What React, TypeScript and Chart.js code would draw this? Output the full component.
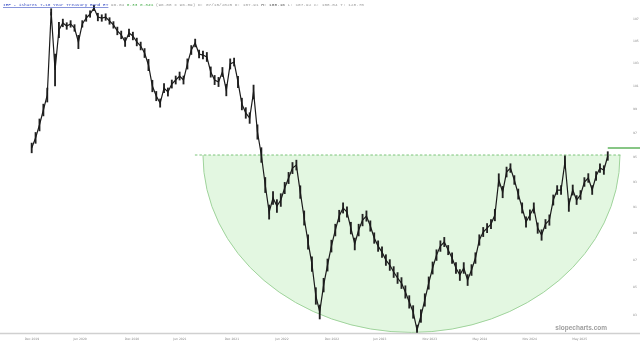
import React, { useEffect, useRef } from "react";
import { Chart, registerables } from "chart.js";

Chart.register(...registerables);

// ---- data ----
const startDate = "2019-12-27";
const stepDays = 14;
const closes = [
  95.79, 96.62, 97.7, 98.96, 100.24, 107.65, 102.42, 106.0, 106.64, 106.36,
  106.55, 106.18, 104.91, 106.55, 107.09, 107.46, 108.02, 107.18, 107.09, 107.18,
  106.82, 106.46, 105.91, 105.55, 104.91, 105.73, 105.45, 104.91, 104.55, 103.92,
  102.86, 101.02, 100.15, 99.55, 100.84, 100.5, 101.19, 101.54, 101.89, 101.54,
  102.95, 104.19, 104.82, 103.83, 103.74, 103.57, 102.24, 101.54, 101.37, 102.24,
  100.67, 102.95, 103.12, 101.37, 99.47, 98.71, 98.28, 100.5, 97.11, 95.21,
  92.79, 90.66, 91.76, 91.13, 91.6, 92.55, 93.35, 94.15, 94.39, 92.23,
  90.2, 88.36, 86.7, 84.36, 83.21, 85.15, 86.63, 88.05, 89.27, 90.35,
  90.98, 90.66, 89.42, 88.21, 89.27, 90.04, 90.35, 89.58, 88.66, 88.05,
  87.6, 87.0, 86.63, 86.11, 85.67, 85.3, 84.65, 83.93, 83.21, 81.93,
  82.92, 84.07, 85.3, 86.41, 87.37, 88.05, 88.36, 87.75, 87.15, 86.41,
  85.89, 86.41, 85.52, 86.26, 87.15, 88.51, 89.12, 89.42, 89.73, 90.43,
  93.19, 92.23, 93.83, 94.15, 93.19, 92.07, 90.98, 89.89, 90.43, 90.98,
  89.42, 88.89, 89.73, 90.04, 91.6, 92.39, 92.39, 94.64, 91.21, 92.39,
  91.6, 92.0, 93.03, 93.35, 92.39, 93.51, 94.15, 93.99, 95.13,
];
// half of the high-low band read around each close (price units)
const spreads = [
  0.4, 0.45, 0.5, 0.5, 0.6, 0.3, 1.4, 0.7, 0.35, 0.3,
  0.3, 0.3, 0.6, 0.3, 0.3, 0.3, 0.25, 0.35, 0.3, 0.3,
  0.3, 0.3, 0.35, 0.35, 0.4, 0.35, 0.35, 0.35, 0.35, 0.4,
  0.5, 0.5, 0.4, 0.35, 0.4, 0.35, 0.35, 0.35, 0.35, 0.35,
  0.45, 0.4, 0.35, 0.35, 0.35, 0.4, 0.45, 0.4, 0.4, 0.4,
  0.5, 0.45, 0.35, 0.5, 0.5, 0.45, 0.45, 0.6, 0.6, 0.6,
  0.6, 0.55, 0.5, 0.5, 0.5, 0.45, 0.45, 0.45, 0.4, 0.5,
  0.55, 0.55, 0.55, 0.6, 0.5, 0.5, 0.45, 0.45, 0.45, 0.45,
  0.4, 0.4, 0.45, 0.45, 0.45, 0.45, 0.4, 0.4, 0.4, 0.4,
  0.4, 0.4, 0.4, 0.4, 0.4, 0.4, 0.45, 0.45, 0.45, 0.35,
  0.45, 0.45, 0.45, 0.45, 0.4, 0.4, 0.35, 0.35, 0.4, 0.4,
  0.4, 0.4, 0.4, 0.4, 0.4, 0.4, 0.35, 0.35, 0.35, 0.45,
  0.5, 0.45, 0.4, 0.35, 0.35, 0.4, 0.4, 0.4, 0.4, 0.4,
  0.4, 0.4, 0.35, 0.4, 0.4, 0.35, 0.35, 0.5, 0.5, 0.4,
  0.35, 0.35, 0.35, 0.35, 0.35, 0.35, 0.35, 0.35, 0.35,
];

const yTicks = [83, 85, 87, 89, 91, 93, 95, 97, 99, 101, 103, 105, 107];
const xTickDates = [
  "2019-12-28", "2020-06-18", "2020-12-22", "2021-06-12", "2021-12-16", "2022-06-14",
  "2022-12-11", "2023-06-01", "2023-11-28", "2024-05-26", "2024-11-21", "2025-05-20",
];
const xTickLabels = [
  "Dec 2019", "Jun 2020", "Dec 2020", "Jun 2021", "Dec 2021", "Jun 2022",
  "Dec 2022", "Jun 2023", "Nov 2023", "May 2024", "Nov 2024", "May 2025",
];

const xMin = "2019-09-04";
const xMax = "2025-10-30";
const yMin = 81.72;
const yMax = 108.76;

const neckline = 95.21;
const bowlLeft = "2021-09-03";
const bowlRight = "2025-10-12";
const bowlBottom = 81.76;
const dashStart = "2021-08-05";
const dashEnd = "2025-10-16";
const lastPrice = 95.79;

const titleParts: [string, string, boolean][] = [
  ["IEF - iShares 7-10 Year Treasury Bond ET", "#3a4fc4", true],
  [" 96.04", "#9a9a9a", false],
  [" 0.33 0.34%", "#4caf50", false],
  [" (96.88 x 96.89) D: 07/15/2025 O: 107.91", "#9a9a9a", false],
  [" H: 108.16", "#555555", false],
  [" L: 107.92 C: 108.04 T: 128.75", "#9a9a9a", false],
];

const DAY = 86400000;
const toMs = (s: string) => Date.parse(s + "T00:00:00Z");

const overlay = {
  id: "overlay",
  beforeDatasetsDraw(chart: any) {
    const { ctx } = chart;
    const xs = chart.scales.x;
    const ys = chart.scales.y;
    const l = xs.getPixelForValue(toMs(bowlLeft));
    const r = xs.getPixelForValue(toMs(bowlRight));
    const top = ys.getPixelForValue(neckline);
    const bot = ys.getPixelForValue(bowlBottom);
    const cx = (l + r) / 2;
    const rx = (r - l) / 2;
    const ry = bot - top;
    ctx.save();
    ctx.beginPath();
    ctx.ellipse(cx, top, rx, ry, 0, 0, Math.PI);
    ctx.closePath();
    ctx.fillStyle = "rgba(200, 240, 196, 0.5)";
    ctx.fill();
    ctx.beginPath();
    ctx.ellipse(cx, top, rx, ry, 0, 0, Math.PI);
    ctx.strokeStyle = "#9fd39b";
    ctx.lineWidth = 1;
    ctx.stroke();
    ctx.beginPath();
    ctx.setLineDash([2.5, 2]);
    ctx.moveTo(xs.getPixelForValue(toMs(dashStart)), top);
    ctx.lineTo(xs.getPixelForValue(toMs(dashEnd)), top);
    ctx.strokeStyle = "#7cc47a";
    ctx.lineWidth = 1;
    ctx.stroke();
    ctx.restore();
  },
  afterDraw(chart: any) {
    const { ctx } = chart;
    const xs = chart.scales.x;
    const ys = chart.scales.y;
    ctx.save();
    ctx.beginPath();
    ctx.moveTo(0, xs.top + 0.5);
    ctx.lineTo(chart.width, xs.top + 0.5);
    ctx.strokeStyle = "#d0d0d0";
    ctx.lineWidth = 1.5;
    ctx.stroke();
    const lastX = xs.getPixelForValue(toMs(startDate) + (closes.length - 1) * stepDays * DAY);
    const py = ys.getPixelForValue(lastPrice);
    ctx.beginPath();
    ctx.moveTo(lastX, py);
    ctx.lineTo(chart.width, py);
    ctx.strokeStyle = "#5fb35c";
    ctx.lineWidth = 1.5;
    ctx.stroke();
    ctx.font = "4.4px 'Liberation Mono', 'DejaVu Sans Mono', monospace";
    ctx.textBaseline = "middle";
    let x = 3;
    const ty = 5;
    for (const [t, c, u] of titleParts) {
      ctx.fillStyle = c;
      ctx.fillText(t, x, ty);
      const w = ctx.measureText(t).width;
      if (u) ctx.fillRect(x, ty + 2.2, w, 0.6);
      x += w;
    }
    ctx.font = "bold 6.5px 'Liberation Sans', Arial, sans-serif";
    ctx.fillStyle = "#9e9e9e";
    ctx.textAlign = "right";
    ctx.fillText("slopecharts.com", 607, 328);
    ctx.restore();
  },
};

export default function App() {
  const ref = useRef<HTMLCanvasElement | null>(null);
  useEffect(() => {
    document.body.style.margin = "0";
    const t0 = toMs(startDate);
    const points = closes.map((v, i) => ({ x: t0 + i * stepDays * DAY, y: v }));
    const bands = closes.map((v, i) => ({
      x: t0 + i * stepDays * DAY,
      y: [v - spreads[i], v + spreads[i]],
    }));
    const chart = new Chart(ref.current as HTMLCanvasElement, {
      type: "line",
      data: {
        datasets: [
          {
            type: "line",
            data: points,
            borderColor: "#1a1a1a",
            borderWidth: 1.2,
            pointRadius: 0,
            tension: 0,
            order: 1,
          } as any,
          {
            type: "bar",
            data: bands,
            backgroundColor: "#222222",
            borderWidth: 0,
            barThickness: 1.2,
            grouped: false,
            order: 2,
          } as any,
        ],
      },
      options: {
        responsive: false,
        animation: false,
        events: [],
        layout: { padding: 0 },
        plugins: { legend: { display: false }, tooltip: { enabled: false } },
        scales: {
          x: {
            type: "linear",
            offset: false,
            min: toMs(xMin),
            max: toMs(xMax),
            grid: { display: false, drawTicks: false, offset: false },
            border: { display: false },
            afterBuildTicks: (axis: any) => {
              axis.ticks = xTickDates.map((d) => ({ value: toMs(d) }));
            },
            afterFit: (axis: any) => {
              axis.height = 12;
              axis.paddingLeft = 0;
              axis.paddingRight = 0;
            },
            ticks: {
              autoSkip: false,
              maxRotation: 0,
              padding: 4,
              color: "#8a8a8a",
              font: { size: 3, family: "'DejaVu Sans', sans-serif" },
              callback: (_v: any, i: number) => xTickLabels[i],
            },
          },
          y: {
            type: "logarithmic",
            position: "right",
            min: yMin,
            max: yMax,
            grid: { display: false, drawTicks: false },
            border: { display: false },
            afterBuildTicks: (axis: any) => {
              axis.ticks = yTicks.map((v) => ({ value: v }));
            },
            afterFit: (axis: any) => {
              axis.width = 15;
              axis.paddingTop = 0;
              axis.paddingBottom = 0;
            },
            ticks: {
              padding: 8,
              color: "#8a8a8a",
              font: { size: 3, family: "'DejaVu Sans', sans-serif" },
              callback: (v: any) => String(v),
            },
          },
        },
      },
      plugins: [overlay],
    });
    return () => chart.destroy();
  }, []);
  return (
    <div style={{ width: 640, height: 345 }}>
      <canvas ref={ref} width={640} height={345} style={{ display: "block" }} />
    </div>
  );
}
